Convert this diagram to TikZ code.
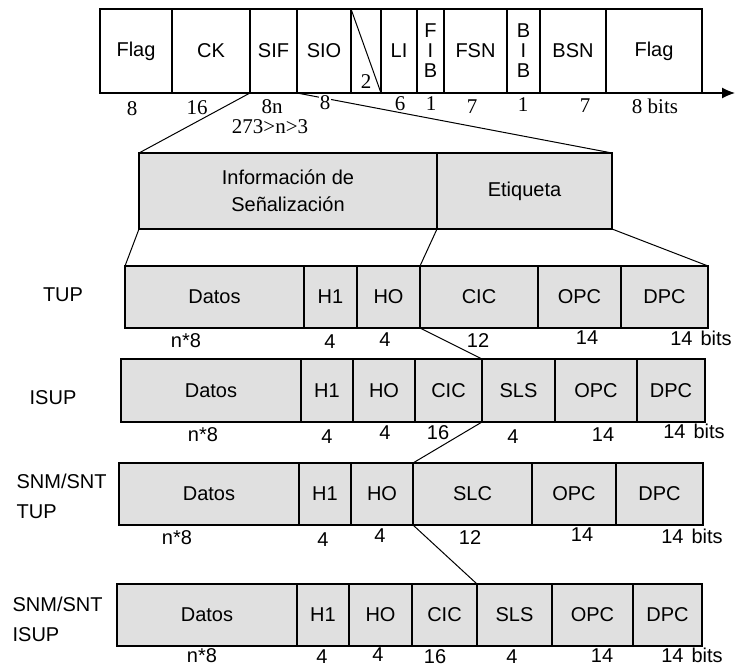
\documentclass[tikz,border=0pt]{standalone}
\usepackage{fontspec}
\setmainfont{Liberation Sans}
\newfontfamily\serifnum{Liberation Serif}
\usetikzlibrary{arrows.meta}
\definecolor{cellgray}{RGB}{224,224,224}
\newcommand\mycell[7][cellst]{%
  \pgfmathsetmacro\cw{#5-#3}\pgfmathsetmacro\ch{#6-#4}%
  \node[#1, minimum width=\cw pt, minimum height=\ch pt, anchor=north west] (#2) at (#3,#4) {#7};}
\begin{document}
\begin{tikzpicture}[x=1pt,y=-1pt,line width=1.2pt,
  cellst/.style={draw, inner sep=0pt, outer sep=0pt, fill=white, align=center,
    font=\fontsize{20}{20}\selectfont},
  graycell/.style={cellst, fill=cellgray},
  snum/.style={font=\serifnum\fontsize{21}{22}\selectfont, inner sep=1pt},
  bnum/.style={font=\fontsize{20}{21}\selectfont, inner sep=0pt},
  rowlab/.style={font=\fontsize{20}{30}\selectfont, align=left, inner sep=0pt},
  conn/.style={line width=1pt}]
\useasboundingbox (0,0) rectangle (736,668);
% ---------- top frame ----------
\mycell{flagA}{100}{9}{172}{93}{Flag}
\mycell{ck}{172}{9}{250}{93}{CK}
\mycell{sif}{250}{9}{297}{93}{SIF}
\mycell{sio}{297}{9}{351}{93}{SIO}
\mycell{spare}{351}{9}{381}{93}{}
\mycell{li}{381}{9}{417}{93}{LI}
\mycell{fib}{417}{9}{444}{93}{F\\I\\B}
\mycell{fsn}{444}{9}{507}{93}{FSN}
\mycell{bib}{507}{9}{540}{93}{B\\I\\B}
\mycell{bsn}{540}{9}{606}{93}{BSN}
\mycell{flagB}{606}{9}{702}{93}{Flag}
\coordinate (arrowtip) at (735,93);
\draw[-{Latex[length=13pt,width=11pt]}] (flagA.south west) -- (arrowtip);
\draw[conn] (spare.north west) -- (spare.south east);
% ---------- middle ----------
\mycell[graycell]{info}{139}{153}{437}{229}{Información de\\[7pt]Señalización}
\mycell[graycell]{etq}{437}{153}{612}{229}{Etiqueta}
% ---------- TUP ----------
\mycell[graycell]{tdatos}{125}{266}{304}{328}{Datos}
\mycell[graycell]{th1}{304}{266}{357}{328}{H1}
\mycell[graycell]{tho}{357}{266}{420}{328}{HO}
\mycell[graycell]{tcic}{420}{266}{538}{328}{CIC}
\mycell[graycell]{topc}{538}{266}{621}{328}{OPC}
\mycell[graycell]{tdpc}{621}{266}{708}{328}{DPC}
% ---------- ISUP ----------
\mycell[graycell]{idatos}{121}{359}{301}{422}{Datos}
\mycell[graycell]{ih1}{301}{359}{353}{422}{H1}
\mycell[graycell]{iho}{353}{359}{415}{422}{HO}
\mycell[graycell]{icic}{415}{359}{482}{422}{CIC}
\mycell[graycell]{isls}{482}{359}{555}{422}{SLS}
\mycell[graycell]{iopc}{555}{359}{637}{422}{OPC}
\mycell[graycell]{idpc}{637}{359}{705}{422}{DPC}
% ---------- SNM/SNT TUP ----------
\mycell[graycell]{sdatos}{119}{463}{299}{525}{Datos}
\mycell[graycell]{sh1}{299}{463}{351}{525}{H1}
\mycell[graycell]{sho}{351}{463}{413}{525}{HO}
\mycell[graycell]{sslc}{413}{463}{532}{525}{SLC}
\mycell[graycell]{sopc}{532}{463}{616}{525}{OPC}
\mycell[graycell]{sdpc}{616}{463}{703}{525}{DPC}
% ---------- SNM/SNT ISUP ----------
\mycell[graycell]{qdatos}{117}{584}{297}{646}{Datos}
\mycell[graycell]{qh1}{297}{584}{349}{646}{H1}
\mycell[graycell]{qho}{349}{584}{412}{646}{HO}
\mycell[graycell]{qcic}{412}{584}{477}{646}{CIC}
\mycell[graycell]{qsls}{477}{584}{552}{646}{SLS}
\mycell[graycell]{qopc}{552}{584}{633}{646}{OPC}
\mycell[graycell]{qdpc}{633}{584}{702}{646}{DPC}
% ---------- connectors ----------
\draw[conn] (sif.south west) -- (info.north west);
\draw[conn] (sio.south west) -- (etq.north east);
\draw[conn] (info.south west) -- (tdatos.north west);
\draw[conn] (info.south east) -- (tcic.north west);
\draw[conn] (etq.south east) -- (tdpc.north east);
\draw[conn] (tcic.south west) -- (isls.north west);
\draw[conn] (isls.south west) -- (sslc.north west);
\draw[conn] (sslc.south west) -- (qsls.north west);
% ---------- top numbers ----------
\node[snum] (n2) at (366,82) {2};
\node[snum] (n8a) at (132,109) {8};
\node[snum] (n16) at (197,108) {16};
\node[snum] (n8n) at (272,107) {8n};
\node[snum] (nrange) at (270,127) {273>n>3};
\node[snum, fill=white] (n8sio) at (325,103) {8};
\node[snum] (n6) at (400,104) {6};
\node[snum] (n1a) at (431,104) {1};
\node[snum] (n7a) at (472,107) {7};
\node[snum] (n1b) at (523,105) {1};
\node[snum] (n7b) at (585,106) {7};
\node[snum] (nbits) at (655,106) {8 bits};
% ---------- row labels ----------
\node[rowlab] (lt) at (63,295) {TUP};
\node[rowlab] (li2) at (53,398) {ISUP};
\node[rowlab, anchor=west] (ls) at (16,496) {SNM/SNT\\TUP};
\node[rowlab, anchor=west] (lq) at (12,619) {SNM/SNT\\ISUP};
% ---------- row numbers ----------
\node[bnum] (t1) at (186,341) {n*8};
\node[bnum] (t2) at (330,342) {4};
\node[bnum] (t3) at (385,340) {4};
\node[bnum] (t4) at (478,341) {12};
\node[bnum] (t5) at (587,338) {14};
\node[bnum] (t6) at (701,338) {14\hspace{8pt}bits};
\node[bnum] (i1) at (203,435) {n*8};
\node[bnum] (i2) at (327,437) {4};
\node[bnum] (i3) at (385,433) {4};
\node[bnum] (i4) at (438,433) {16};
\node[bnum] (i5) at (513,437) {4};
\node[bnum] (i6) at (603,435) {14};
\node[bnum] (i7) at (694,431) {14\hspace{8pt}bits};
\node[bnum] (s1) at (177,538) {n*8};
\node[bnum] (s2) at (323,540) {4};
\node[bnum] (s3) at (380,536) {4};
\node[bnum] (s4) at (470,538) {12};
\node[bnum] (s5) at (582,535) {14};
\node[bnum] (s6) at (692,536) {14\hspace{8pt}bits};
\node[bnum] (q1) at (202,656) {n*8};
\node[bnum] (q2) at (322,657) {4};
\node[bnum] (q3) at (378,655) {4};
\node[bnum] (q4) at (435,657) {16};
\node[bnum] (q5) at (512,657) {4};
\node[bnum] (q6) at (602,656) {14};
\node[bnum] (q7) at (692,655) {14\hspace{8pt}bits};
\end{tikzpicture}
\end{document}
